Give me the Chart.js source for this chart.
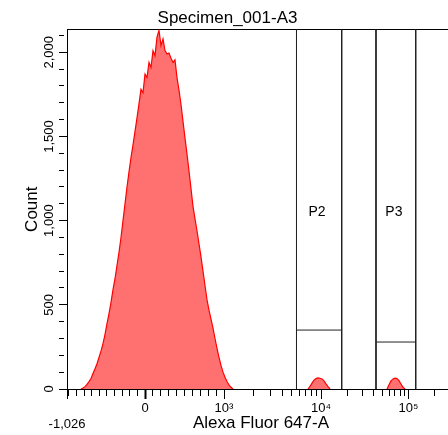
<!DOCTYPE html>
<html>
<head>
<meta charset="utf-8">
<script src="https://cdn.jsdelivr.net/npm/chart.js@4.4.1/dist/chart.umd.min.js"></script>
<style>
html,body{margin:0;padding:0;overflow:hidden;background:#fff;width:448px;height:435px}
#wrap{width:464px;height:435px}
</style>
</head>
<body>
<div id="wrap"><canvas id="c" width="464" height="435"></canvas></div>
<script>
// ---- text ----
const chartTitle = 'Specimen_001-A3';
const xTitle = 'Alexa Fluor 647-A';
const yTitle = 'Count';

// ---- x axis (biexponential display) ----
const xMajorValues = [-1026, 0, 1000, 10000, 100000];
const xMajorLabels = [['', '-1,026'], '0', '10³', '10⁴', '10⁵'];
const xMinorValues = [-1000, -900, -800, -700, -600, -500, -400, -300, -200, -100,
  100, 200, 300, 400, 500, 600, 700, 800, 900,
  2000, 3000, 4000, 5000, 6000, 7000, 8000, 9000,
  20000, 30000, 40000, 50000, 60000, 70000, 80000, 90000, 200000];
const xChannelMax = 388;

// ---- y axis ----
const yMax = 2136;
const yTickValues = [0,100,200,300,400,500,600,700,800,900,1000,1100,1200,1300,1400,1500,1600,1700,1800,1900,2000,2100];
const yLabelEvery = 500;

// ---- histogram (counts per 2-channel bin) ----
const binWidth = 2;
const mainStartChannel = 14;
const mainCounts = [0, 6, 14, 28, 44, 62, 92, 120, 150, 188, 226, 270, 325, 388, 448, 515,
  590, 655, 735, 812, 900, 1000, 1100, 1200, 1290, 1375, 1450, 1530, 1610, 1695, 1780,
  1760, 1870, 1850, 1940, 1910, 2010, 1980, 2090, 2130, 2040, 2080, 2010, 1990, 1995,
  1965, 1940, 1955, 1850, 1775, 1690, 1590, 1490, 1395, 1295, 1190, 1085, 1010, 940,
  862, 785, 700, 615, 530, 468, 415, 362, 300, 242, 188, 140, 100, 70, 44, 24, 10, 0];
const p2StartChannel = 241;
const p2Counts = [0, 15, 35, 52, 62, 66, 64, 60, 48, 30, 14, 0];
const p3StartChannel = 320;
const p3Counts = [0, 25, 48, 60, 64, 62, 50, 30, 10, 0];

// ---- gates ----
const gateNames = ['P2', 'P3'];
const gateLow = [5590, 42510];
const gateHigh = [17240, 120900];
const gateLevel = [350, 279];
const gateLabelCount = 1050;

// display transform: data value -> display channel
function toChannel(v) {
  if (v <= 0) return 78 + v * (78 / 1026);
  if (v <= 1000) return 78 + v * 0.079;
  if (v <= 10000) return 157 + 97 * Math.log10(v / 1000);
  return 254 + 87.5 * Math.log10(v / 10000);
}

function binPoints(start, counts) {
  return counts.map((c, i) => ({x: start + i * binWidth, y: c}));
}

const gatePoints = [];
gateNames.forEach((n, i) => {
  const a = toChannel(gateLow[i]), b = toChannel(gateHigh[i]);
  gatePoints.push({x: a, y: yMax}, {x: a, y: 0}, {x: a, y: null},
                  {x: b, y: yMax}, {x: b, y: 0}, {x: b, y: null},
                  {x: a, y: gateLevel[i]}, {x: b, y: gateLevel[i]}, {x: b, y: null});
});

const xTicks = [];
xMajorValues.forEach((v, i) => xTicks.push({value: toChannel(v), mj: true, zero: v === 0, lbl: xMajorLabels[i]}));
xMinorValues.forEach(v => xTicks.push({value: toChannel(v), mj: false, lbl: ''}));
xTicks.sort((a, b) => a.value - b.value);

const FONT = '"Liberation Sans", Arial, sans-serif';
Chart.defaults.font.family = FONT;
Chart.defaults.color = '#000';

const histStyle = {
  type: 'line', stepped: false, fill: 'origin', borderColor: '#ff0000',
  backgroundColor: 'rgba(255,0,0,0.56)', borderWidth: 1.2, pointRadius: 0, tension: 0
};

const gateLabelPlugin = {
  id: 'gateLabels',
  afterDatasetsDraw(chart) {
    const {ctx, scales: {x, y}} = chart;
    ctx.save();
    ctx.font = '14px ' + FONT;
    ctx.fillStyle = '#000';
    ctx.textAlign = 'center';
    ctx.textBaseline = 'middle';
    gateNames.forEach((n, i) => {
      const cx = (x.getPixelForValue(toChannel(gateLow[i])) + x.getPixelForValue(toChannel(gateHigh[i]))) / 2;
      ctx.fillText(n, cx - 2, y.getPixelForValue(gateLabelCount));
    });
    ctx.restore();
  }
};

new Chart(document.getElementById('c'), {
  type: 'line',
  data: {
    datasets: [
      Object.assign({label: 'main', data: binPoints(mainStartChannel, mainCounts)}, histStyle),
      Object.assign({label: 'p2', data: binPoints(p2StartChannel, p2Counts)}, histStyle),
      Object.assign({label: 'p3', data: binPoints(p3StartChannel, p3Counts)}, histStyle),
      {label: 'gates', data: gatePoints, borderColor: '#222', borderWidth: 1, pointRadius: 0,
       fill: false, spanGaps: false, tension: 0}
    ]
  },
  options: {
    responsive: false,
    animation: false,
    devicePixelRatio: 1,
    layout: {padding: {left: 0, right: 9, top: 0, bottom: 0}},
    plugins: {
      legend: {display: false},
      tooltip: {enabled: false},
      title: {display: true, text: chartTitle, color: '#000',
              font: {size: 17, weight: 'normal'}, padding: {top: 8, bottom: 1}}
    },
    scales: {
      x: {
        type: 'linear', position: 'bottom', min: 0, max: xChannelMax,
        afterBuildTicks: s => { s.ticks = xTicks.map(t => Object.assign({}, t)); },
        afterFit: s => { s.height = 46; },
        border: {display: true, color: '#000', width: 1},
        grid: {drawOnChartArea: false, tickLength: 10, tickColor: '#000',
               tickWidth: c => (c.tick && c.tick.zero) ? 2 : 1,
               tickBorderDash: c => (c.tick && c.tick.mj) ? [] : [6, 100]},
        ticks: {autoSkip: false, minRotation: 0, maxRotation: 0, padding: 2,
                font: {size: 13}, color: '#000',
                callback: (v, i, ticks) => ticks[i].lbl || ''},
        title: {display: true, text: xTitle, font: {size: 17}, color: '#000', padding: {top: 0, bottom: 1}}
      },
      xTop: {
        type: 'linear', position: 'top', min: 0, max: xChannelMax,
        afterFit: s => { s.height = 0; },
        border: {display: true, color: '#000', width: 1},
        grid: {display: false},
        ticks: {display: false}
      },
      y: {
        type: 'linear', position: 'left', min: 0, max: yMax,
        afterBuildTicks: s => { s.ticks = yTickValues.map(v => ({value: v, mj: v % yLabelEvery === 0})); },
        afterFit: s => { s.width = 67; },
        border: {display: true, color: '#000', width: 1},
        grid: {drawOnChartArea: false, tickLength: 8, tickColor: '#000',
               tickBorderDash: c => (c.tick && c.tick.mj) ? [] : [5, 100]},
        ticks: {autoSkip: false, minRotation: 90, maxRotation: 90, crossAlign: 'center',
                padding: -7, font: {size: 13}, color: '#000',
                callback: v => (v % yLabelEvery === 0) ? v.toLocaleString('en-US') : ''},
        title: {display: true, text: yTitle, font: {size: 17}, color: '#000', padding: {top: 22, bottom: 0}}
      }
    }
  },
  plugins: [gateLabelPlugin]
});
</script>
</body>
</html>
